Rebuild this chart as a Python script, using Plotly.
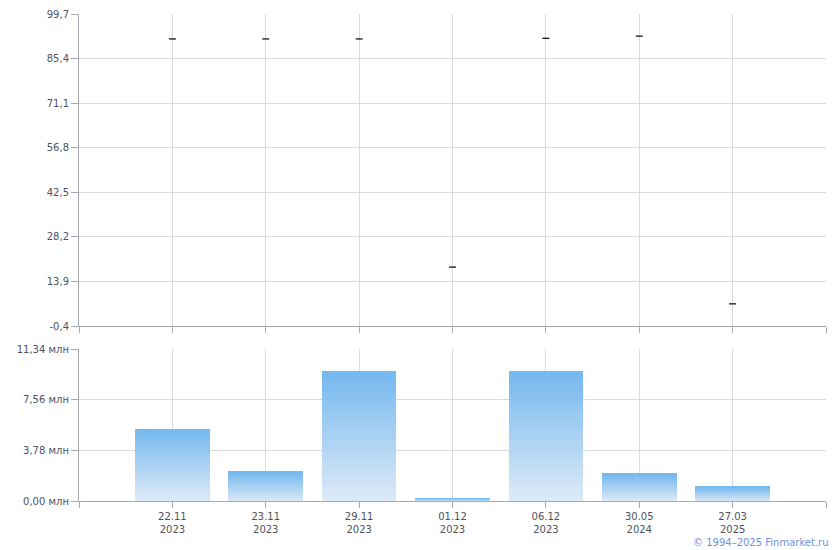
import plotly.graph_objects as go

dates = ["22.11<br>2023", "23.11<br>2023", "29.11<br>2023", "01.12<br>2023",
         "06.12<br>2023", "30.05<br>2024", "27.03<br>2025"]
prices = [91.7, 91.7, 91.7, 18.5, 91.9, 92.6, 6.7]
volumes_mln = [5.39, 2.17, 9.73, 0.22, 9.73, 2.02, 1.05]

price_ticks = [-0.4, 13.9, 28.2, 42.5, 56.8, 71.1, 85.4, 99.7]
price_tick_text = ["-0,4", "13,9", "28,2", "42,5", "56,8", "71,1", "85,4", "99,7"]
vol_ticks = [0, 3.78, 7.56, 11.34]
vol_tick_text = ["0,00 млн", "3,78 млн", "7,56 млн", "11,34 млн"]

idx = list(range(len(dates)))
xtickvals = [-1] + idx + [len(dates)]
xticktext = [""] + dates + [""]

FONT = "DejaVu Sans, Verdana, sans-serif"
GRID = "#d6dbe0"
AXIS = "#a7aab4"
TXT = "#50525c"

fig = go.Figure()

fig.add_trace(go.Scatter(
    x=idx, y=prices, mode="markers",
    marker=dict(symbol="line-ew", size=5, line=dict(width=1.2, color="#000000")),
    xaxis="x", yaxis="y", showlegend=False, hoverinfo="x+y"))

N = 30
top = (0x74, 0xb8, 0xee)
bot = (0xde, 0xea, 0xf7)
for k in range(N):
    t = (k + 0.5) / N
    c = tuple(round(bot[i] + (top[i] - bot[i]) * t) for i in range(3))
    fig.add_trace(go.Bar(
        x=idx, y=[v / N for v in volumes_mln], width=0.8,
        marker=dict(color="rgb(%d,%d,%d)" % c, line=dict(width=0)),
        xaxis="x2", yaxis="y2", showlegend=False, hoverinfo="skip"))

H = 487.0
common_x = dict(range=[-1, len(dates)], tickvals=xtickvals, ticktext=xticktext,
                showgrid=True, gridcolor=GRID, gridwidth=1, zeroline=False,
                showline=True, linecolor=AXIS, linewidth=1,
                ticks="outside", ticklen=6, tickcolor=AXIS, automargin=False,
                tickfont=dict(family=FONT, size=10, color=TXT))

fig.update_layout(
    width=840, height=550,
    margin=dict(l=79, r=14, t=14, b=49, autoexpand=False),
    paper_bgcolor="white", plot_bgcolor="white",
    barmode="stack", bargap=0.2,
    font=dict(family=FONT, size=10, color=TXT),
    xaxis=dict(common_x, anchor="y", domain=[0, 1], showticklabels=False),
    xaxis2=dict(common_x, anchor="y2", domain=[0, 1]),
    yaxis=dict(domain=[(501 - 326) / H, 1], range=[-0.4, 99.7],
               tickvals=price_ticks, ticktext=price_tick_text, automargin=False,
               showgrid=True, gridcolor=GRID, zeroline=False,
               showline=True, linecolor=AXIS, ticks="outside", ticklen=7,
               tickcolor=AXIS, tickfont=dict(family=FONT, size=10, color=TXT)),
    yaxis2=dict(domain=[0, (501 - 349) / H], range=[0, 11.34],
                tickvals=vol_ticks, ticktext=vol_tick_text, automargin=False,
                showgrid=True, gridcolor=GRID, zeroline=False,
                showline=True, linecolor=AXIS, ticks="outside", ticklen=7,
                tickcolor=AXIS, tickfont=dict(family=FONT, size=10, color=TXT)),
    annotations=[dict(text="© 1994–2025 Finmarket.ru", xref="paper", yref="paper",
                      x=1, y=-41 / H, xanchor="right", yanchor="middle", xshift=5,
                      showarrow=False,
                      font=dict(family=FONT, size=10, color="#6f8fdf"))],
)

fig.write_html("out.html", config={"displayModeBar": False},
               post_script="document.body.style.margin='0px';document.body.style.overflow='hidden';")
